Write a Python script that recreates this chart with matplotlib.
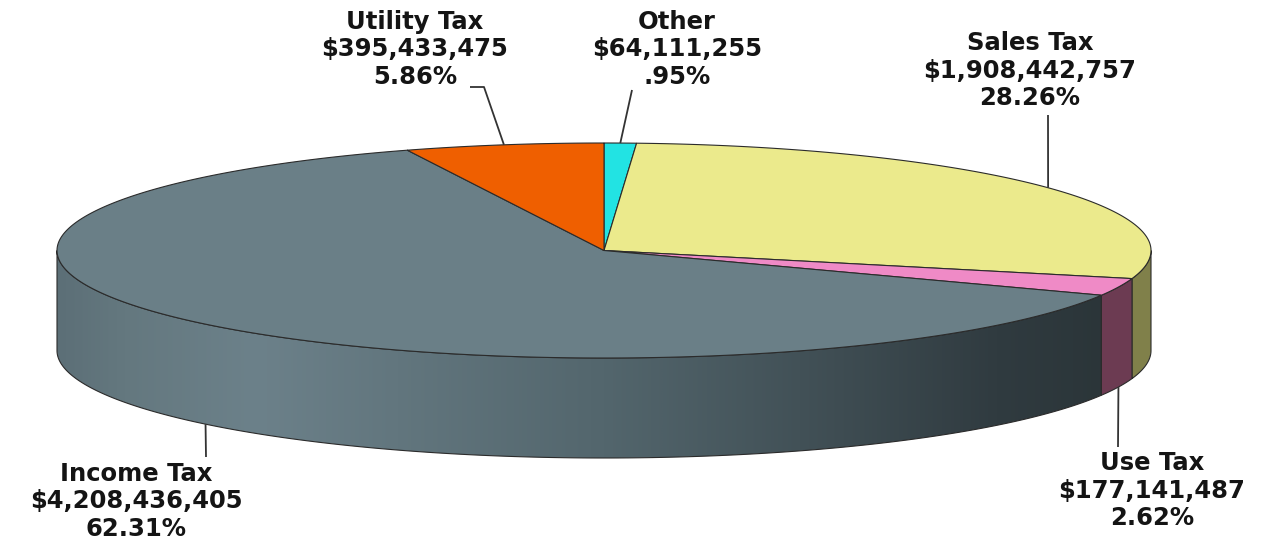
import matplotlib.pyplot as plt
import numpy as np
from matplotlib.patches import Polygon
from matplotlib.colors import LinearSegmentedColormap

# slices, clockwise from 12 o'clock
labels = ['Other', 'Sales Tax', 'Use Tax', 'Income Tax', 'Utility Tax']
amounts = [64111255, 1908442757, 177141487, 4208436405, 395433475]
pct_text = ['.95%', '28.26%', '2.62%', '62.31%', '5.86%']
top_colors = ['#22e3e3', '#ebea8c', '#ef8ac6', '#6a7f87', '#ef5f00']
side_colors = ['#1aa0a0', '#80804a', '#6c3b52', None, '#a04000']

# pie geometry in pixels
cx, cy = 604, 250.5
a, b = 547, 107.5
depth = 100
edge = '#2b2b2b'

# label block centre (x, first line y) and leader end points
label_pos = [(677, 22), (1030, 43), (1152, 463), (136, 474), (415, 22)]
leader_end = [[(632, 90)], [(1048, 115)], [(1118, 447)], [(206, 457)],
              [(484, 87), (470, 87)]]

income_cmap = LinearSegmentedColormap.from_list('side', [
    (0.0, '#5c6f77'), (0.06, '#64787f'), (0.18, '#6c818a'), (0.31, '#62767e'),
    (0.5, '#53666d'), (0.68, '#425157'), (0.86, '#303b40'), (1.0, '#293336')])


def arc(t0, t1, dy=0, n=300):
    t = np.radians(np.linspace(t0, t1, n))
    return np.column_stack([cx + a * np.cos(t), cy - b * np.sin(t) + dy])


fig = plt.figure(figsize=(12.73, 5.47), dpi=100)
ax = fig.add_axes([0, 0, 1, 1])

frac = np.array(amounts) / sum(amounts)
ends = 90 - 360 * np.cumsum(frac)
starts = np.r_[90, ends[:-1]]

# side walls (front half only)
for i in range(len(amounts)):
    s0, s1 = max(ends[i], -180), min(starts[i], 0)
    if s1 <= s0:
        continue
    pts = np.vstack([arc(s0, s1), arc(s1, s0, depth)])
    if side_colors[i] is None:
        poly = Polygon(pts, closed=True, fc='none', ec=edge, lw=0.8, zorder=3)
        ax.add_patch(poly)
        grad = np.linspace(0, 1, 512).reshape(1, -1)
        im = ax.imshow(grad, cmap=income_cmap, extent=[cx - a, cx + a, cy + b + depth, cy - b],
                       aspect='auto', zorder=2, interpolation='bilinear')
        im.set_clip_path(poly)
    else:
        ax.add_patch(Polygon(pts, closed=True, fc=side_colors[i], ec=edge, lw=0.8, zorder=3))

# top faces
for i in range(len(amounts)):
    pts = np.vstack([[cx, cy], arc(ends[i], starts[i])])
    ax.add_patch(Polygon(pts, closed=True, fc=top_colors[i], ec=edge, lw=0.8, zorder=4))

# labels and leader lines
mids = (starts + ends) / 2
for i in range(len(amounts)):
    t = np.radians(mids[i])
    ax_x = cx + a * np.cos(t)
    ax_y = cy - b * np.sin(t) + (depth if np.sin(t) < 0 else 0)
    path = [(ax_x, ax_y)] + leader_end[i]
    xs, ys = zip(*path)
    ax.plot(xs, ys, color='#333333', lw=1.3, zorder=5, solid_capstyle='butt')
    lx, ly = label_pos[i]
    lines = [labels[i], '${:,}'.format(amounts[i]), pct_text[i]]
    for k, s in enumerate(lines):
        ax.text(lx, ly + 27.5 * k, s, ha='center', va='center', fontsize=17.5,
                fontweight='bold', color='#141414', family='DejaVu Sans', zorder=6)

ax.set_xlim(0, 1273)
ax.set_ylim(547, 0)
ax.axis('off')
fig.savefig('out.png', dpi=100, facecolor='white')
